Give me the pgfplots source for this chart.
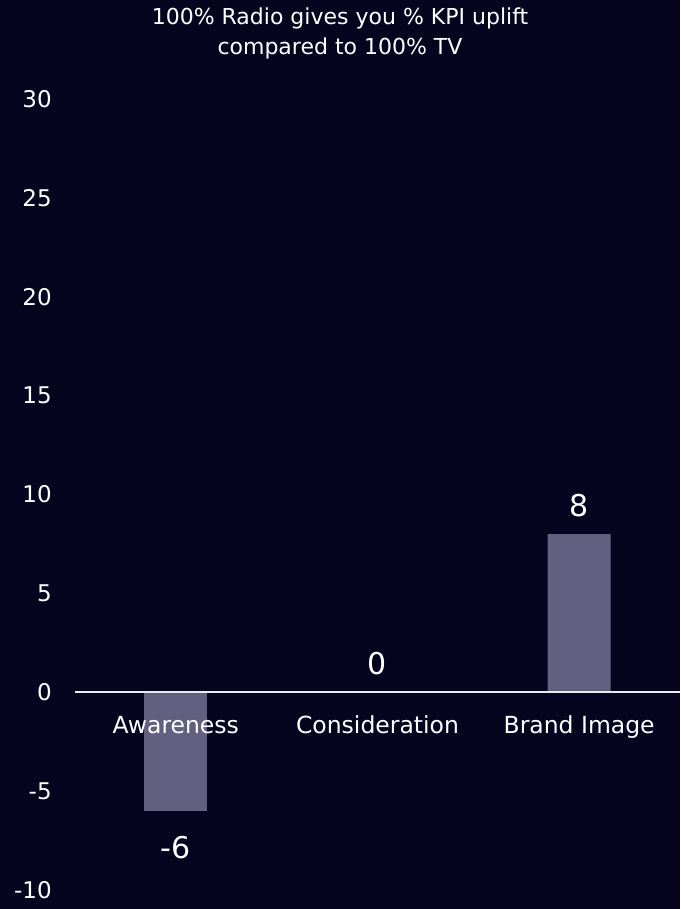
\documentclass[border=0pt]{standalone}
\usepackage{pgfplots}
\pgfplotsset{compat=1.18}
\usepackage{fontspec}
\setmainfont{DejaVu Sans}
\definecolor{bg}{RGB}{5,5,32}
\definecolor{barc}{RGB}{98,96,128}
\definecolor{axl}{RGB}{235,235,240}
\begin{document}
\begin{tikzpicture}
\fill[bg] (0pt,0pt) rectangle (680pt,909pt);
\node[white, align=center, font=\fontsize{22}{30}\selectfont] at (340pt,876pt) {100\% Radio gives you \% KPI uplift\\compared to 100\% TV};
\begin{axis}[
  at={(75pt,19pt)}, anchor=south west,
  scale only axis, width=605pt, height=791pt,
  xmin=-0.5, xmax=2.5, ymin=-10, ymax=30,
  axis x line=middle, axis y line=left,
  x axis line style={axl, line width=1.5pt, -},
  y axis line style={draw=none},
  tick style={draw=none},
  xtick={0,1,2},
  xticklabels={Awareness, Consideration, Brand Image},
  xticklabel style={white, font=\fontsize{23.5}{27}\selectfont, anchor=base, inner sep=0pt, yshift=-37pt},
  ytick={-10,-5,0,5,10,15,20,25,30},
  yticklabel style={white, font=\fontsize{23}{27}\selectfont, anchor=east, inner sep=0pt, xshift=-21pt},
  /pgf/number format/assume math mode=true,
  ybar, bar width=63pt, bar shift=0pt,
  axis on top, clip=false,
]
\addplot[fill=barc, draw=none,
  nodes near coords,
  every node near coord/.append style={white, font=\fontsize{30}{34}\selectfont, anchor=base, inner sep=0pt, yshift=18pt}]
  coordinates {(1,0) (2,8)};
\addplot[fill=barc, draw=none,
  nodes near coords,
  every node near coord/.append style={white, font=\fontsize{30}{34}\selectfont, anchor=base, inner sep=0pt, yshift=-48pt}]
  coordinates {(0,-6)};
\end{axis}
\end{tikzpicture}
\end{document}
